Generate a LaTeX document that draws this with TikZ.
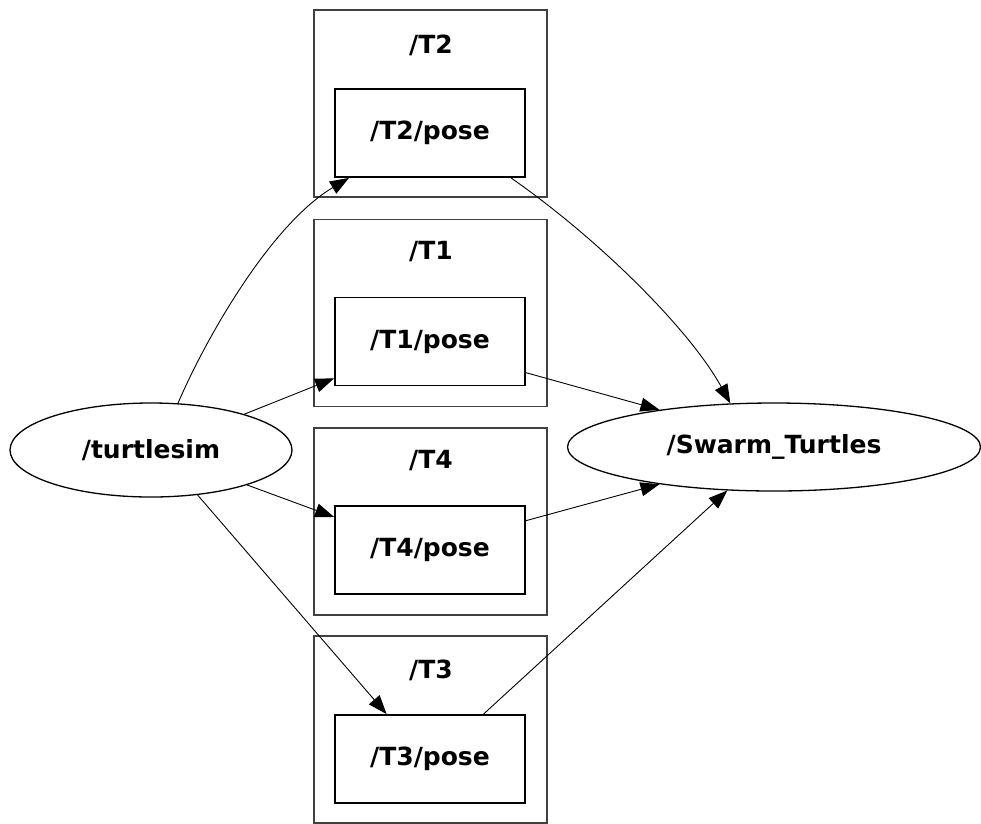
\documentclass[tikz,border=0pt]{standalone}
\usepackage{fontspec}
\setmainfont{DejaVu Sans}
\usetikzlibrary{arrows.meta,shapes.geometric}
\begin{document}
\begin{tikzpicture}[x=1pt,y=1pt,
  lbl/.style={font=\fontsize{25}{28}\selectfont\bfseries},
  cluster/.style={draw=black!75,line width=1.6pt,minimum width=233pt,minimum height=187pt,inner sep=0pt},
  topic/.style={draw=black,line width=1.8pt,minimum width=190pt,minimum height=88pt,inner sep=0pt,lbl},
  rosnode/.style={draw=black,ellipse,line width=1.3pt,inner sep=0pt,lbl},
  edge/.style={line width=0.9pt,-{Triangle[length=19pt,width=14pt]}}]
\useasboundingbox (0,0) rectangle (981,-823);
% clusters
\node[cluster] (c2) at (430.5,-103.5) {};
\node[cluster] (c1) at (430.5,-313) {};
\node[cluster] (c4) at (430.5,-521.5) {};
\node[cluster] (c3) at (430.5,-729.5) {};
\node[lbl] (l2) at (431,-45) {/T2};
\node[lbl] (l1) at (431,-252) {/T1};
\node[lbl] (l4) at (431,-461) {/T4};
\node[lbl] (l3) at (431,-670) {/T3};
% topics
\node[topic] (p2) at (430,-133) {/T2/pose};
\node[topic] (p1) at (430,-341.5) {/T1/pose};
\node[topic] (p4) at (430,-550) {/T4/pose};
\node[topic] (p3) at (430,-759) {/T3/pose};
% ros nodes
\node[rosnode,minimum width=282pt,minimum height=94pt] (ts) at (151,-450) {/turtlesim};
\node[rosnode,minimum width=413pt,minimum height=88pt] (sw) at (774,-447) {/Swarm\_Turtles};
% edges
\draw[edge] (ts.60) .. controls (205,-340) and (270,-225) .. (p2.209);
\draw[edge] (ts.21) -- (p1.201);
\draw[edge] (ts.-20) -- (p4.161);
\draw[edge] (ts.-44) -- (p3.134);
\draw[edge] (p2.-29) .. controls (600,-240) and (690,-330) .. (sw.135);
\draw[edge] (p1.-18) -- (sw.162);
\draw[edge] (p4.17) -- (sw.198);
\draw[edge] (p3.40) -- (sw.223);
\end{tikzpicture}
\end{document}
